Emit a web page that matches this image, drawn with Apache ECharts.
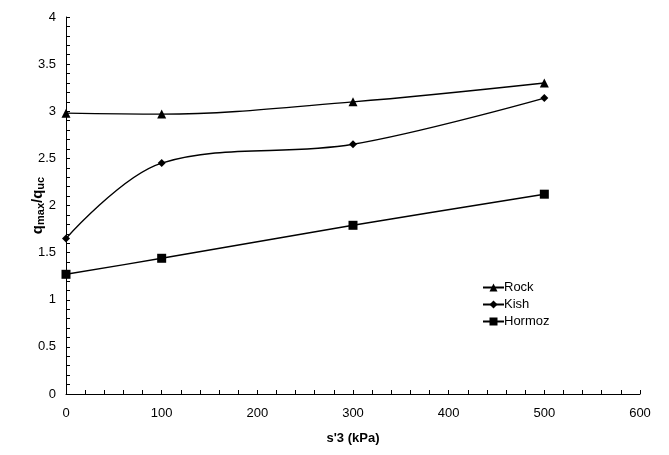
<!DOCTYPE html>
<html>
<head>
<meta charset="utf-8">
<script src="https://cdn.jsdelivr.net/npm/echarts@6/dist/echarts.min.js"></script>
<style>html,body{margin:0;padding:0;background:#fff}#c{width:669px;height:455px}</style>
</head>
<body>
<div id="c"></div>
<script>
var xValues = [0, 100, 300, 500];
var rock = [2.98, 2.97, 3.10, 3.30];
var kish = [1.65, 2.45, 2.65, 3.14];
var hormoz = [1.27, 1.44, 1.79, 2.12];
var seriesNames = ['Rock', 'Kish', 'Hormoz'];

function pairs(ys){ return xValues.map(function(x,i){ return [x, ys[i]]; }); }

var font = 'Liberation Sans, Arial, sans-serif';
var chart = echarts.init(document.getElementById('c'));
function mkSeries(name, data, symbol, size){
  return {
    name: name, type: 'line', data: pairs(data), smooth: 0.35,
    symbol: symbol, symbolSize: size, showSymbol: true,
    lineStyle: {color: '#000', width: 1.4},
    itemStyle: {color: '#000'},
    animation: false
  };
}
chart.setOption({
  backgroundColor: '#fff',
  textStyle: {fontFamily: font},
  grid: {left: 66, right: 29, top: 17, bottom: 61},
  legend: {
    orient: 'vertical', left: 477, top: 276, itemGap: 4,
    itemWidth: 21, itemHeight: 10,
    textStyle: {fontFamily: font, fontSize: 13, color: '#000', padding: [0,0,0,-5]},
    data: seriesNames
  },
  xAxis: {
    type: 'value', min: 0, max: 600, interval: 100,
    name: "s'3 (kPa)", nameLocation: 'middle', nameGap: 38, nameMoveOverlap: false,
    nameTextStyle: {fontFamily: font, fontWeight: 'bold', fontSize: 13, color: '#000'},
    axisLine: {lineStyle: {color: '#000', width: 1}},
    axisTick: {inside: true, length: 4, lineStyle: {color: '#000'}},
    minorTick: {show: true, splitNumber: 5, length: 4, lineStyle: {color: '#000'}},
    axisLabel: {color: '#000', fontSize: 13, fontFamily: font, margin: 13},
    splitLine: {show: false}
  },
  yAxis: {
    type: 'value', min: 0, max: 4, interval: 0.5,
    name: '{q|q}{s|max}{q|/q}{s|uc}', nameLocation: 'middle', nameGap: 20, nameRotate: 90,
    nameMoveOverlap: false,
    nameTextStyle: {
      rich: {
        q: {fontFamily: font, fontWeight: 'bold', fontSize: 15, color: '#000'},
        s: {fontFamily: font, fontWeight: 'bold', fontSize: 11, color: '#000', verticalAlign: 'bottom', padding: [6,0,0,0]}
      }
    },
    axisLine: {show: true, lineStyle: {color: '#000', width: 1}},
    axisTick: {show: true, inside: true, length: 4, lineStyle: {color: '#000'}},
    minorTick: {show: true, splitNumber: 5, length: 4, lineStyle: {color: '#000'}},
    axisLabel: {color: '#000', fontSize: 13, fontFamily: font, margin: 10},
    splitLine: {show: false}
  },
  series: [
    mkSeries('Rock', rock, 'triangle', 9),
    mkSeries('Kish', kish, 'diamond', 8),
    mkSeries('Hormoz', hormoz, 'rect', 9)
  ]
});
</script>
</body>
</html>
